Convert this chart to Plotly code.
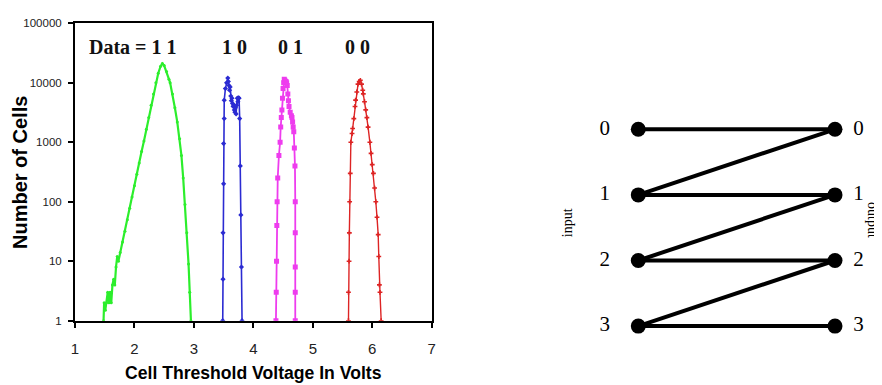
import plotly.graph_objects as go

# ---------------- data: threshold-voltage distributions ----------------
v11 = [1.48, 1.49, 1.51, 1.53, 1.55, 1.57, 1.59, 1.61, 1.63, 1.65, 1.67, 1.69, 1.71, 1.73,
       1.76, 1.80, 1.84, 1.88, 1.92, 1.96, 2.00, 2.04, 2.08, 2.12, 2.16, 2.20, 2.24, 2.28,
       2.32, 2.36, 2.40, 2.44, 2.47, 2.50, 2.54, 2.58, 2.60, 2.64, 2.68, 2.72, 2.76, 2.79,
       2.82, 2.85, 2.88, 2.91, 2.93, 2.95]
n11 = [1, 2, 1.5, 2, 3, 2, 3, 2, 4, 5, 4, 8, 12, 10,
       14, 21, 32, 50, 78, 120, 185, 290, 450, 700, 1050, 1650, 2600, 4200,
       6500, 10000, 14500, 19000, 21000, 19500, 15500, 11500, 10000, 6500, 3800, 2200, 1150, 600,
       250, 90, 30, 9, 3, 1]

v10 = [3.485, 3.49, 3.49, 3.50, 3.50, 3.51, 3.51, 3.53, 3.55, 3.57, 3.58, 3.59, 3.60, 3.61,
       3.62, 3.63, 3.64, 3.65, 3.66, 3.67, 3.68, 3.69, 3.70, 3.71, 3.72, 3.73, 3.74, 3.75,
       3.76, 3.77, 3.78, 3.79, 3.80, 3.81]
n10 = [1, 5, 30, 200, 950, 2500, 5100, 8000, 10000, 12000, 10500, 9000, 7500, 8500,
       6000, 5000, 5500, 4500, 4000, 4200, 3500, 3200, 3800, 3000, 4200, 5500, 4800, 5600,
       5500, 2500, 400, 60, 8, 1]

v01 = [4.38, 4.385, 4.39, 4.395, 4.40, 4.41, 4.43, 4.45, 4.46, 4.47, 4.48, 4.49, 4.50, 4.51,
       4.52, 4.53, 4.55, 4.56, 4.57, 4.58, 4.59, 4.60, 4.62, 4.64, 4.65, 4.66, 4.67, 4.68,
       4.69, 4.70, 4.705, 4.705, 4.705, 4.705, 4.705]
n01 = [1, 3, 10, 40, 100, 250, 600, 1000, 1800, 2600, 3500, 5500, 8000, 10000,
       11500, 11000, 10500, 10000, 9000, 6500, 5000, 4000, 3200, 2800, 2600, 2200, 1800, 1500,
       800, 400, 100, 30, 8, 3, 1]

v00 = [5.60, 5.60, 5.61, 5.615, 5.62, 5.63, 5.64, 5.66, 5.67, 5.69, 5.71, 5.72, 5.74, 5.76,
       5.78, 5.80, 5.82, 5.84, 5.85, 5.87, 5.89, 5.91, 5.93, 5.96, 5.98, 6.00, 6.02, 6.04,
       6.06, 6.08, 6.10, 6.11, 6.12, 6.13, 6.15]
n00 = [1, 3, 10, 30, 100, 300, 1000, 1400, 1700, 2500, 4000, 5100, 7000, 9500,
       10500, 11000, 9500, 7500, 6500, 4800, 3500, 2600, 1800, 1000, 650, 420, 300, 170,
       100, 55, 28, 12, 4, 3, 1]

state_labels = ["Data = 1 1", "1 0", "0 1", "0 0"]
label_volts = [1.976, 3.69, 4.62, 5.76]

x_ticks = [1, 2, 3, 4, 5, 6, 7]
y_ticks = [1, 10, 100, 1000, 10000, 100000]
y_ticktext = ["1", "10", "100", "1000", "10000", "100000"]

# ---------------- data: input/output mapping diagram ----------------
levels = [0, 1, 2, 3]
edge_in = [0, 1, 1, 2, 2, 3, 3]
edge_out = [0, 0, 1, 1, 2, 2, 3]

# the page body has an 8px margin, so the figure is sized to fit the window
W, H = 874, 377

fig = go.Figure()

series = [
    (v11, n11, "#2cee2c", "circle", 3, 2.2),
    (v10, n10, "#2b2bd2", "diamond", 4, 1.6),
    (v01, n01, "#ee3cee", "square", 5, 1.8),
    (v00, n00, "#dd2424", "cross", 4, 1.4),
]
for vx, ny, col, sym, ms, lw in series:
    fig.add_trace(go.Scatter(
        x=vx, y=ny, mode="lines+markers",
        line=dict(color=col, width=lw),
        marker=dict(color=col, symbol=sym, size=ms),
        showlegend=False, xaxis="x", yaxis="y"))

for lab, vx in zip(state_labels, label_volts):
    fig.add_annotation(x=vx, y=4.6, xref="x", yref="y", text="<b>" + lab + "</b>",
                       showarrow=False,
                       font=dict(family="Liberation Serif", size=20, color="#111"),
                       xanchor="center", yanchor="middle")

# axis titles
fig.add_annotation(x=(67 + 423.7) / 2 / W, y=(H - 365) / H, xref="paper", yref="paper",
                   text="<b>Cell Threshold Voltage In Volts</b>", showarrow=False,
                   font=dict(family="Liberation Sans", size=17.6, color="black"),
                   xanchor="center", yanchor="middle")
fig.add_annotation(x=12 / W, y=(H - 165) / H, xref="paper", yref="paper",
                   text="<b>Number of Cells</b>", showarrow=False, textangle=-90,
                   font=dict(family="Liberation Sans", size=20, color="black"),
                   xanchor="center", yanchor="middle")

# diagram edges
ex, ey = [], []
for a, b in zip(edge_in, edge_out):
    ex += [0, 1, None]
    ey += [a, b, None]
fig.add_trace(go.Scatter(x=ex, y=ey, mode="lines", line=dict(color="black", width=4),
                         showlegend=False, xaxis="x2", yaxis="y2", hoverinfo="skip"))
fig.add_trace(go.Scatter(x=[0] * len(levels) + [1] * len(levels), y=levels + levels,
                         mode="markers", marker=dict(color="black", size=15),
                         showlegend=False, xaxis="x2", yaxis="y2"))
fig.add_trace(go.Scatter(x=[-0.17] * len(levels), y=levels, mode="text",
                         text=[str(l) for l in levels], textposition="middle center",
                         textfont=dict(family="Liberation Serif", size=21, color="black"),
                         showlegend=False, xaxis="x2", yaxis="y2"))
fig.add_trace(go.Scatter(x=[1.12] * len(levels), y=levels, mode="text",
                         text=[str(l) for l in levels], textposition="middle center",
                         textfont=dict(family="Liberation Serif", size=21, color="black"),
                         showlegend=False, xaxis="x2", yaxis="y2"))
fig.add_annotation(x=-0.362, y=1.43, xref="x2", yref="y2", text="input", textangle=-90,
                   showarrow=False, font=dict(family="Liberation Serif", size=14, color="black"))
fig.add_annotation(x=1.19, y=1.39, xref="x2", yref="y2", text="output", textangle=90,
                   showarrow=False, font=dict(family="Liberation Serif", size=14, color="black"))

fig.update_layout(
    template="none",
    width=W, height=H,
    margin=dict(l=0, r=0, t=0, b=0),
    paper_bgcolor="white", plot_bgcolor="white",
    showlegend=False,
    xaxis=dict(domain=[67 / W, 423.7 / W], range=[1, 7], tickvals=x_ticks,
               ticks="outside", ticklen=5, tickwidth=1.5, tickcolor="black",
               showgrid=False, zeroline=False, showline=True, linecolor="black",
               linewidth=2, mirror=True, automargin=False,
               tickfont=dict(family="Liberation Sans", size=15, color="#222"),
               ticklabelstandoff=8),
    yaxis=dict(domain=[(H - 312.7) / H, (H - 15.3) / H], type="log", range=[0, 5],
               tickvals=y_ticks, ticktext=y_ticktext,
               ticks="outside", ticklen=5, tickwidth=1.5, tickcolor="black",
               showgrid=False, zeroline=False, showline=True, linecolor="black",
               linewidth=2, mirror=True, automargin=False,
               tickfont=dict(family="Liberation Sans", size=11.5, color="#222"),
               ticklabelstandoff=4),
    xaxis2=dict(domain=[552 / W, 1], range=[-0.398, 1.239], visible=False,
                anchor="y2", fixedrange=True),
    yaxis2=dict(domain=[0, 1], range=[3.898, -1.849], visible=False,
                anchor="x2", fixedrange=True),
)

fig.write_html("out.html")
